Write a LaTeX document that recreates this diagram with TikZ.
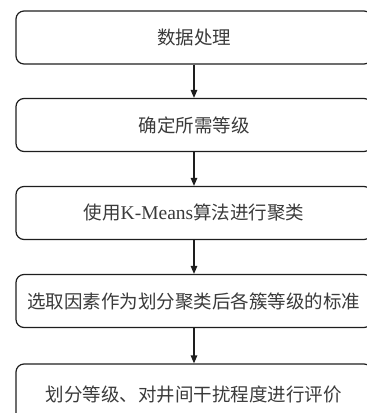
\documentclass[tikz,border=0pt]{standalone}
\usepackage{fontspec}
\setmainfont{Liberation Serif}
\newfontfamily\cjk{Noto Sans CJK SC}
\usetikzlibrary{arrows.meta}
\definecolor{linec}{HTML}{1E1E1E}
\definecolor{textc}{HTML}{3A3A3A}
\tikzset{
  stepbox/.style={draw=linec, line width=1.2bp, rounded corners=8bp,
    minimum width=356bp, minimum height=53bp, inner sep=0pt,
    text=textc, font=\fontsize{18.5bp}{22bp}\selectfont\cjk},
  flow/.style={draw=linec, line width=1.3bp, -{Triangle[length=8bp,width=6.5bp]}}
}
\begin{document}
\begin{tikzpicture}[x=1bp,y=-1bp]
\useasboundingbox (0,0) rectangle (367,413);
\clip (0,0) rectangle (367,413);
\node[stepbox] (b1) at (194,37.5) {数据处理};
\node[stepbox] (b2) at (194,125) {确定所需等级};
\node[stepbox] (b3) at (194,213) {使用{\rmfamily\fontsize{19.5bp}{22bp}\selectfont K-Means}算法进行聚类};
\node[stepbox] (b4) at (194,301) {选取因素作为划分聚类后各簇等级的标准};
\node[stepbox, minimum height=62bp] (b5) at (194,395) {划分等级、对井间干扰程度进行评价};
\draw[flow] (b1) -- (b2);
\draw[flow] (b2) -- (b3);
\draw[flow] (b3) -- (b4);
\draw[flow] (b4) -- (b5);
\end{tikzpicture}
\end{document}
